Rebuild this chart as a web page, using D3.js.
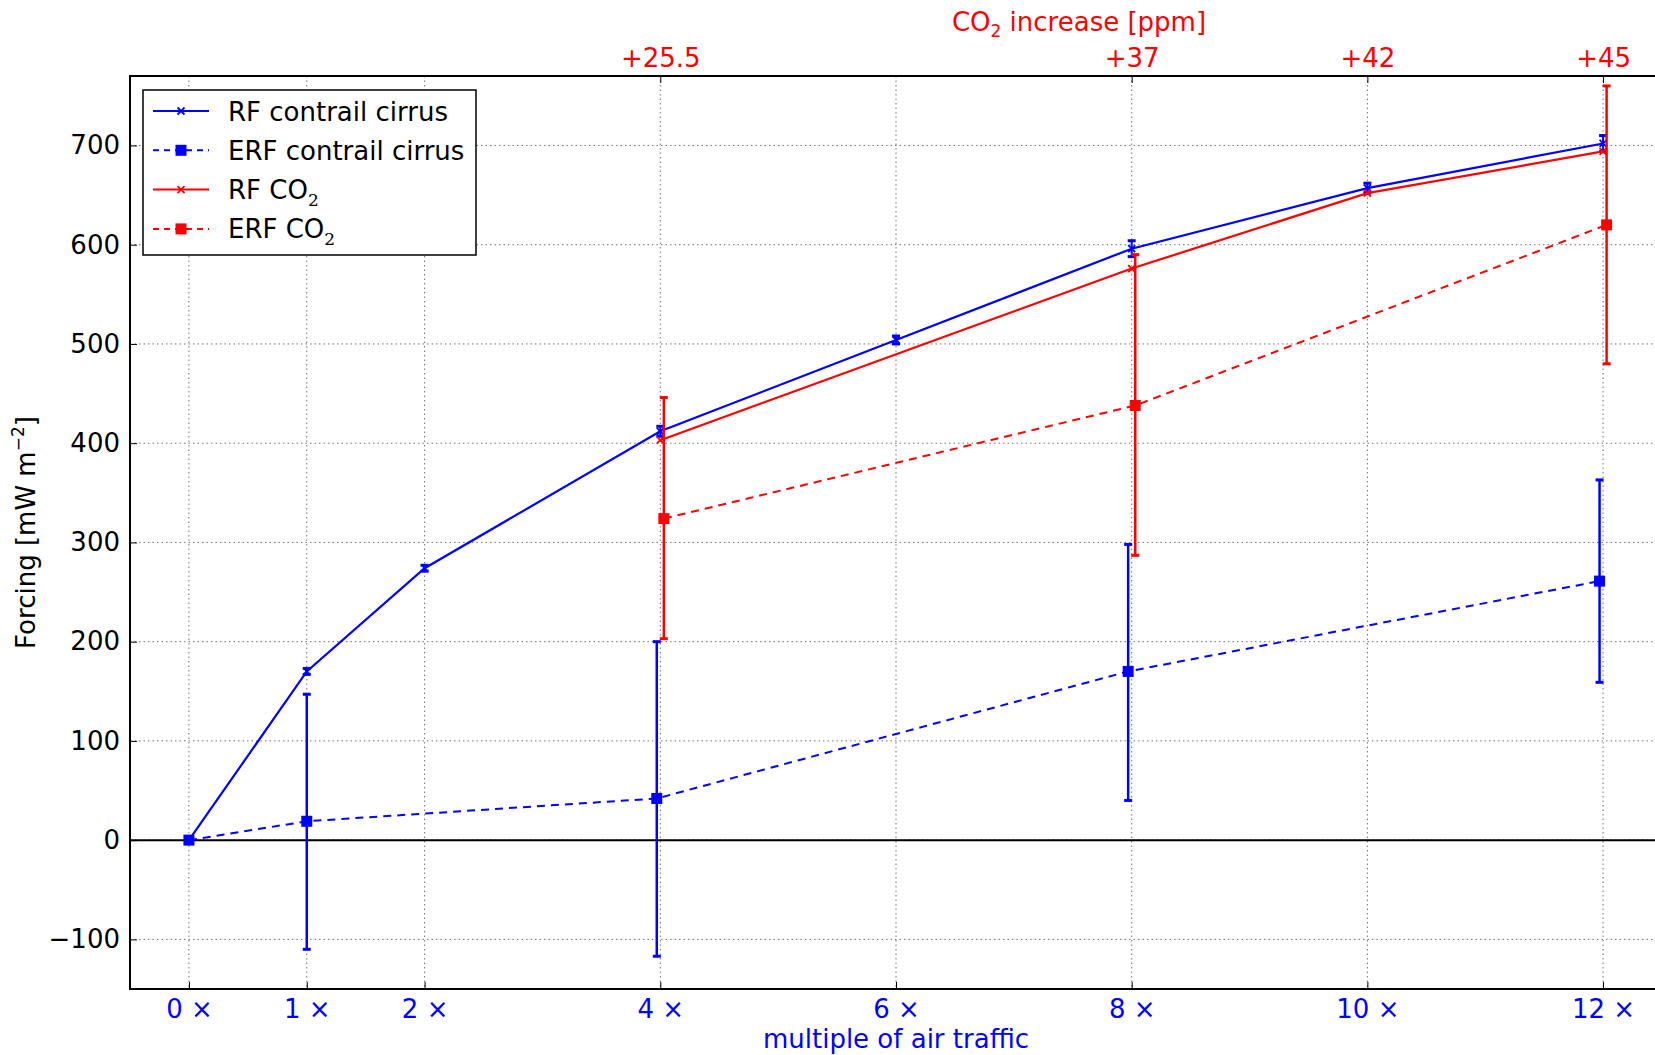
<!DOCTYPE html>
<html>
<head>
<meta charset="utf-8">
<script src="https://cdn.jsdelivr.net/npm/d3@7"></script>
<style>
	body { margin: 0; background: #fff; }
	text { font-family: "DejaVu Sans", sans-serif; }
</style>
</head>
<body>
<div id="chart"></div>
<script>
// forcing vs. multiple of air traffic

const traffic = [0, 1, 2, 4, 6, 8, 10, 12];
const rfCirrus = [0, 170, 274, 412, 504, 596, 657, 702];
const rfCirrusErr = [0, 3, 3, 5, 4, 8, 5, 8];

const erfCirrusX = [0, 1, 4, 8, 12];
const erfCirrus = [0, 19, 42, 170, 261];
const erfCirrusLo = [0, -110, -117, 40, 159];
const erfCirrusHi = [0, 147, 200, 298, 363];

const rfCo2X = [4, 8, 10, 12];
const rfCo2 = [403, 576, 652, 694];

const erfCo2X = [4, 8, 12];
const erfCo2 = [324, 438, 620];
const erfCo2Lo = [203, 287, 480];
const erfCo2Hi = [446, 590, 760];

const co2TickX = [4, 8, 10, 12];
const co2TickLabels = ['+25.5', '+37', '+42', '+45'];
const yTicks = [-100, 0, 100, 200, 300, 400, 500, 600, 700];

const W = 1655, H = 1055;
const pLeft = 130, pRight = 1662, pTop = 76, pBottom = 989;
const blue = '#0000ff', red = '#ff0000';
const fs = 26;

const svg = d3.select('#chart').append('svg')
	.attr('width', W)
	.attr('height', H);
svg.append('rect').attr('width', W).attr('height', H).attr('fill', '#fff');

const x = d3.scaleLinear().domain([-0.5, 12.5]).range([pLeft, pRight]);
const y = d3.scaleLinear().domain([-150, 770]).range([pBottom, pTop]);

// small horizontal shift so the two ERF error bars don't overlap
const dodge = (t, s) => erfCo2X.includes(t) ? t + s * 0.03 : t;

svg.append('clipPath').attr('id', 'clip')
	.append('rect').attr('x', pLeft).attr('y', pTop)
	.attr('width', pRight - pLeft).attr('height', pBottom - pTop);

// grid
const grid = svg.append('g').attr('clip-path', 'url(#clip)')
	.attr('stroke', '#000').attr('stroke-width', 1)
	.attr('stroke-dasharray', '1.5,3').attr('opacity', 0.55);
grid.selectAll('.gx').data(traffic).enter().append('line')
	.attr('x1', d => x(d)).attr('x2', d => x(d))
	.attr('y1', pTop).attr('y2', pBottom);
grid.selectAll('.gy').data(yTicks).enter().append('line')
	.attr('x1', pLeft).attr('x2', pRight)
	.attr('y1', d => y(d)).attr('y2', d => y(d));

// zero line
svg.append('line')
	.attr('x1', pLeft).attr('x2', pRight)
	.attr('y1', y(0)).attr('y2', y(0))
	.attr('stroke', '#000').attr('stroke-width', 2);

// axes
const xAxis = svg.append('g')
	.attr('transform', 'translate(0,' + pBottom + ')')
	.call(d3.axisBottom(x).tickValues(traffic).tickFormat(d => d + ' ×').tickSize(-7).tickPadding(11));
const yAxis = svg.append('g')
	.attr('transform', 'translate(' + pLeft + ',0)')
	.call(d3.axisLeft(y).tickValues(yTicks).tickFormat(d => d < 0 ? '−' + (-d) : d).tickSize(-7).tickPadding(10));
const topAxis = svg.append('g')
	.attr('transform', 'translate(0,' + pTop + ')')
	.call(d3.axisTop(x).tickValues(co2TickX).tickFormat((d, i) => co2TickLabels[i]).tickSize(-7).tickPadding(9));

[xAxis, yAxis, topAxis].forEach(g => {
	g.select('.domain').remove();
	g.selectAll('line').attr('stroke', '#000').attr('stroke-width', 1);
	g.selectAll('text').attr('font-size', fs).attr('font-family', 'DejaVu Sans');
});
xAxis.selectAll('text').attr('fill', blue);
yAxis.selectAll('text').attr('fill', '#000');
topAxis.selectAll('text').attr('fill', red);

// frame
svg.append('rect')
	.attr('x', pLeft).attr('y', pTop)
	.attr('width', pRight - pLeft).attr('height', pBottom - pTop)
	.attr('fill', 'none').attr('stroke', '#000').attr('stroke-width', 2);

// axis labels
svg.append('text')
	.attr('x', (pLeft + pRight) / 2).attr('y', 1048)
	.attr('text-anchor', 'middle').attr('font-size', fs).attr('fill', blue)
	.text('multiple of air traffic');

const t2 = svg.append('text')
	.attr('x', 1079).attr('y', 31)
	.attr('text-anchor', 'middle').attr('font-size', fs).attr('fill', red);
t2.append('tspan').text('CO');
t2.append('tspan').attr('font-size', 17).attr('dy', 6).text('2');
t2.append('tspan').attr('dy', -6).text(' increase [ppm]');

const yl = svg.append('text')
	.attr('transform', 'translate(35,' + ((pTop + pBottom) / 2) + ') rotate(-90)')
	.attr('text-anchor', 'middle').attr('font-size', fs).attr('fill', '#000');
yl.append('tspan').text('Forcing [mW m');
yl.append('tspan').attr('font-size', 17).attr('dy', -11).text('−2');
yl.append('tspan').attr('dy', 11).text(']');

// data
const plot = svg.append('g').attr('clip-path', 'url(#clip)');
const line = d3.line().x(d => x(d[0])).y(d => y(d[1]));

function errorBars(g, xs, lo, hi, color, lw) {
	xs.forEach((t, i) => {
		if (lo[i] === hi[i]) return;
		g.append('line')
			.attr('x1', x(t)).attr('x2', x(t))
			.attr('y1', y(lo[i])).attr('y2', y(hi[i]))
			.attr('stroke', color).attr('stroke-width', lw);
		[lo[i], hi[i]].forEach(v => {
			g.append('line')
				.attr('x1', x(t) - 4).attr('x2', x(t) + 4)
				.attr('y1', y(v)).attr('y2', y(v))
				.attr('stroke', color).attr('stroke-width', 3);
		});
	});
}

function crosses(g, pts, color) {
	pts.forEach(p => {
		const cx = x(p[0]), cy = y(p[1]), s = 3.5;
		g.append('path')
			.attr('d', `M${cx - s},${cy - s}L${cx + s},${cy + s}M${cx - s},${cy + s}L${cx + s},${cy - s}`)
			.attr('stroke', color).attr('stroke-width', 1.8);
	});
}

function squares(g, pts, color) {
	g.selectAll(null).data(pts).enter().append('rect')
		.attr('x', d => x(d[0]) - 5.5).attr('y', d => y(d[1]) - 5.5)
		.attr('width', 11).attr('height', 11)
		.attr('fill', color);
}

// RF contrail cirrus
const rfcPts = traffic.map((t, i) => [t, rfCirrus[i]]);
plot.append('path').datum(rfcPts).attr('d', line)
	.attr('fill', 'none').attr('stroke', blue).attr('stroke-width', 2.2);
errorBars(plot, traffic, rfCirrus.map((v, i) => v - rfCirrusErr[i]), rfCirrus.map((v, i) => v + rfCirrusErr[i]), blue, 2);
crosses(plot, rfcPts, blue);

// RF CO2
const rfco2Pts = rfCo2X.map((t, i) => [t, rfCo2[i]]);
plot.append('path').datum(rfco2Pts).attr('d', line)
	.attr('fill', 'none').attr('stroke', red).attr('stroke-width', 2.2);
crosses(plot, rfco2Pts, red);

// ERF CO2
const erfco2Xd = erfCo2X.map(t => dodge(t, 1));
const erfco2Pts = erfco2Xd.map((t, i) => [t, erfCo2[i]]);
plot.append('path').datum(erfco2Pts).attr('d', line)
	.attr('fill', 'none').attr('stroke', red).attr('stroke-width', 2)
	.attr('stroke-dasharray', '8,6');
errorBars(plot, erfco2Xd, erfCo2Lo, erfCo2Hi, red, 2.5);
squares(plot, erfco2Pts, red);

// ERF contrail cirrus
const erfcXd = erfCirrusX.map(t => dodge(t, -1));
const erfcPts = erfcXd.map((t, i) => [t, erfCirrus[i]]);
plot.append('path').datum(erfcPts).attr('d', line)
	.attr('fill', 'none').attr('stroke', blue).attr('stroke-width', 2)
	.attr('stroke-dasharray', '8,6');
errorBars(plot, erfcXd, erfCirrusLo, erfCirrusHi, blue, 2.5);
squares(plot, erfcPts, blue);

// legend
const legendItems = [
	{ name: 'RF contrail cirrus', sub: null, color: blue, dash: null, mark: 'x' },
	{ name: 'ERF contrail cirrus', sub: null, color: blue, dash: '6,5', mark: 's' },
	{ name: 'RF CO', sub: '2', color: red, dash: null, mark: 'x' },
	{ name: 'ERF CO', sub: '2', color: red, dash: '6,5', mark: 's' }
];
const lg = svg.append('g');
lg.append('rect')
	.attr('x', 143).attr('y', 90).attr('width', 333).attr('height', 165)
	.attr('fill', '#fff').attr('stroke', '#000').attr('stroke-width', 1.5);
legendItems.forEach((d, i) => {
	const cy = 111 + i * 39.3;
	lg.append('line')
		.attr('x1', 153).attr('x2', 209).attr('y1', cy).attr('y2', cy)
		.attr('stroke', d.color).attr('stroke-width', 2)
		.attr('stroke-dasharray', d.dash);
	if (d.mark === 's') {
		lg.append('rect').attr('x', 181 - 5.5).attr('y', cy - 5.5)
			.attr('width', 11).attr('height', 11).attr('fill', d.color);
	} else {
		lg.append('path')
			.attr('d', `M177.5,${cy - 3.5}L184.5,${cy + 3.5}M177.5,${cy + 3.5}L184.5,${cy - 3.5}`)
			.attr('stroke', d.color).attr('stroke-width', 1.8);
	}
	const tx = lg.append('text')
		.attr('x', 228).attr('y', cy + 9.5)
		.attr('font-size', fs).attr('fill', '#000');
	tx.append('tspan').text(d.name);
	if (d.sub) {
		tx.append('tspan').attr('font-family', 'DejaVu Serif')
			.attr('font-size', 17).attr('dy', 7).text(d.sub);
	}
});
</script>
</body>
</html>
